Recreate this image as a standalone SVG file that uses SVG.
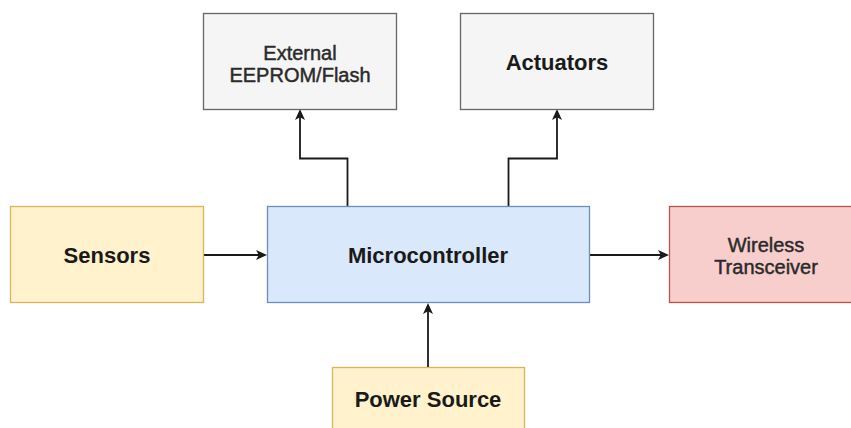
<svg xmlns="http://www.w3.org/2000/svg" width="851" height="428" viewBox="0 0 851 428">
  <style>
    .box { stroke-width: 1.3; }
    .gray { fill: #f5f5f5; stroke: #666666; }
    .yellow { fill: #fff2cc; stroke: #d6b656; }
    .blue { fill: #dae8fc; stroke: #6c8ebf; }
    .red { fill: #f8cecc; stroke: #b85450; }
    .label { font-family: "Liberation Sans", Arial, Helvetica, sans-serif; text-anchor: middle; fill: #1a1a1a; }
    .bold { font-size: 22px; font-weight: bold; }
    .plain { font-size: 20px; stroke: #2a2a2a; stroke-width: 0.45; }
    .dim { fill: #2a2a2a; }
    .edge { fill: none; stroke: #1a1a1a; stroke-width: 1.8; marker-end: url(#arrow); }
  </style>
  <defs>
    <marker id="arrow" viewBox="0 0 11 10" refX="3" refY="5" markerWidth="11" markerHeight="10" markerUnits="userSpaceOnUse" orient="auto">
      <path d="M0,0 L11,5 L0,10 L2.8,5 Z" fill="#1a1a1a"/>
    </marker>
  </defs>

  <rect width="851" height="428" fill="#ffffff"/>

  <g id="connectors">
    <!-- Microcontroller to External EEPROM/Flash -->
    <path class="edge" d="M347.5,206 V158.5 H300 V117"/>
    <!-- Microcontroller to Actuators -->
    <path class="edge" d="M508.5,206 V158.5 H557 V117"/>
    <!-- Sensors to Microcontroller -->
    <path class="edge" d="M203,255 H259"/>
    <!-- Microcontroller to Wireless Transceiver -->
    <path class="edge" d="M589,255 H661"/>
    <!-- Power Source to Microcontroller -->
    <path class="edge" d="M428,367 V311"/>
  </g>

  <g id="eeprom">
    <rect class="box gray" x="203.5" y="13.5" width="193" height="96"/>
    <text class="label plain dim" x="300" y="60">External</text>
    <text class="label plain dim" x="300" y="82">EEPROM/Flash</text>
  </g>

  <g id="actuators">
    <rect class="box gray" x="460.5" y="13.5" width="193" height="96"/>
    <text class="label bold" x="557" y="70">Actuators</text>
  </g>

  <g id="sensors">
    <rect class="box yellow" x="10.5" y="206.5" width="193" height="96"/>
    <text class="label bold" x="107" y="263">Sensors</text>
  </g>

  <g id="microcontroller">
    <rect class="box blue" x="267.5" y="206.5" width="322" height="96"/>
    <text class="label bold" x="428" y="263">Microcontroller</text>
  </g>

  <g id="wireless">
    <rect class="box red" x="669.5" y="206.5" width="193" height="96"/>
    <text class="label plain dim" x="766" y="252">Wireless</text>
    <text class="label plain dim" x="766" y="274">Transceiver</text>
  </g>

  <g id="power">
    <rect class="box yellow" x="332.5" y="367.5" width="192" height="96"/>
    <text class="label bold" x="428" y="407">Power Source</text>
  </g>
</svg>
